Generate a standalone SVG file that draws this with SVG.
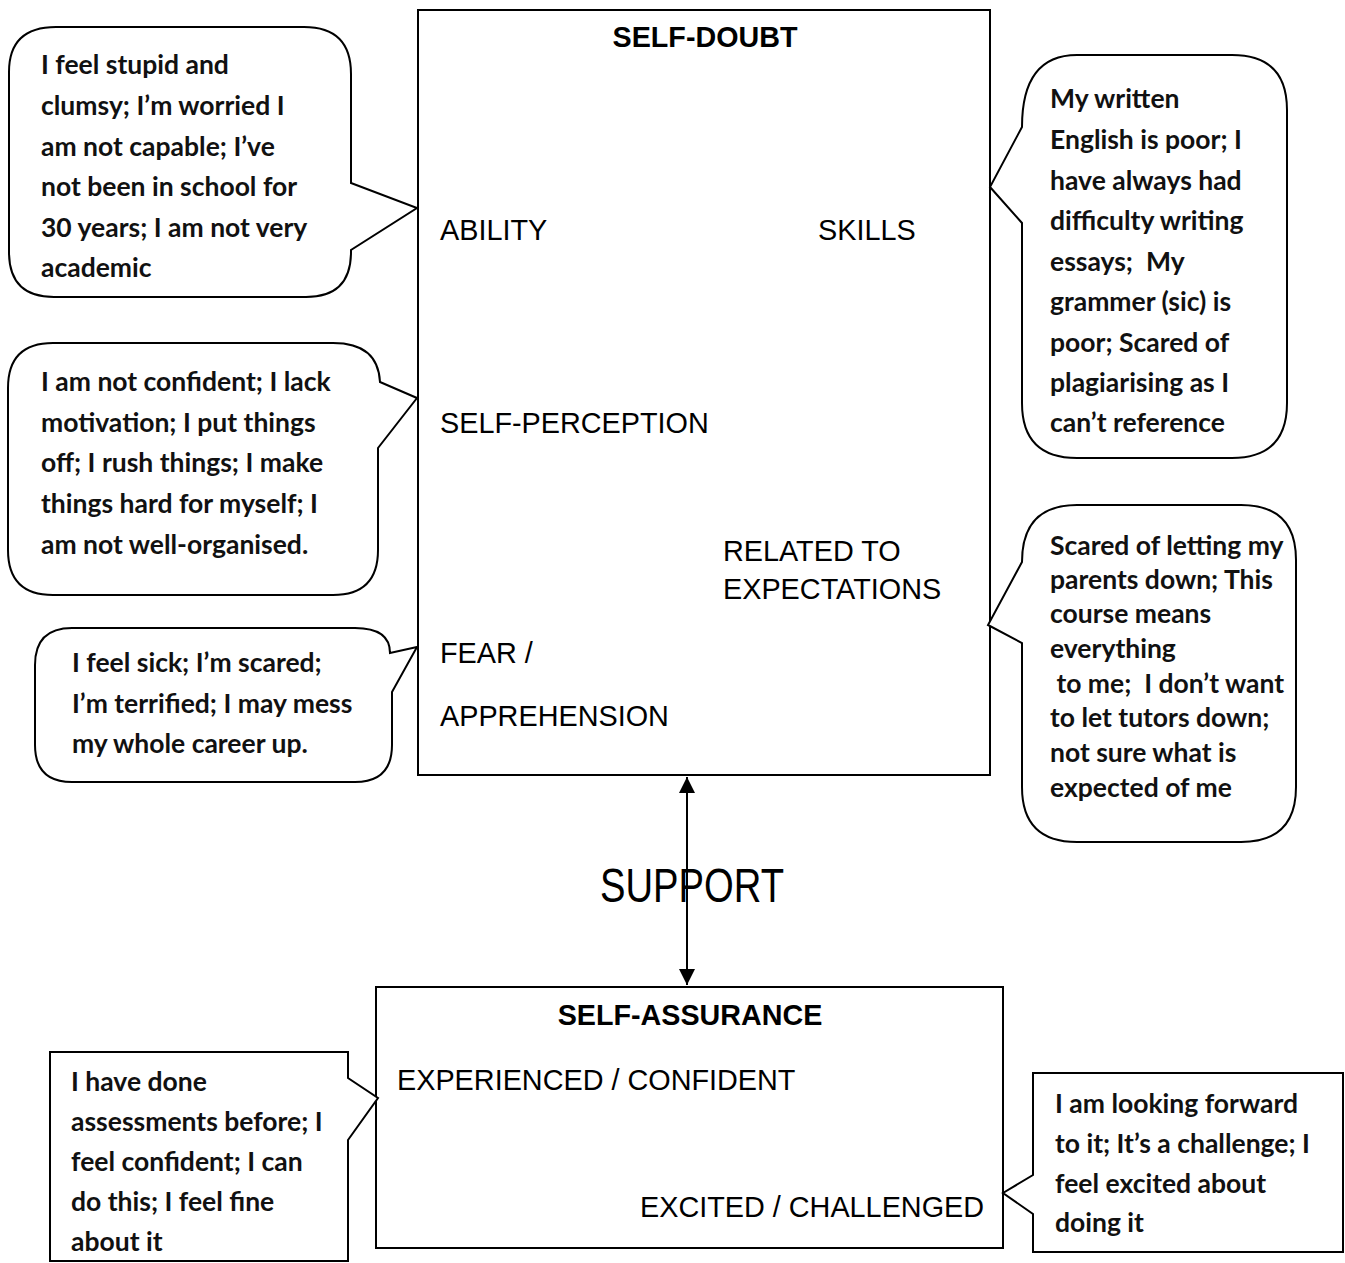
<svg xmlns="http://www.w3.org/2000/svg" width="1345" height="1263" viewBox="0 0 1345 1263">
<style>
.box{fill:#fff;stroke:#000;stroke-width:2}
.co{fill:#fff;stroke:#000;stroke-width:2;stroke-linejoin:miter}
.lab{font-family:"Liberation Sans",Arial,sans-serif;font-size:28.8px;fill:#000}
.hd{font-family:"Liberation Sans",Arial,sans-serif;font-size:28.7px;font-weight:bold;fill:#000;text-anchor:middle}
.ct{font-family:Lato,"Open Sans",sans-serif;font-size:26.5px;font-weight:bold;fill:#111}
.conn{stroke:#000;stroke-width:2;fill:none}
</style>
<defs>
<marker id="ah" viewBox="0 0 10 10" refX="10" refY="5" markerWidth="8.5" markerHeight="8" markerUnits="strokeWidth" orient="auto-start-reverse">
<path d="M0 0 L10 5 L0 10 Z" fill="#000"/>
</marker>
</defs>
<rect width="1345" height="1263" fill="#fff"/>

<g id="self-doubt">
<rect class="box" x="418" y="10" width="572" height="765"/>
<text class="hd" x="705" y="47">SELF-DOUBT</text>
<text class="lab" x="440" y="240">ABILITY</text>
<text class="lab" x="818" y="240">SKILLS</text>
<text class="lab" x="440" y="433">SELF-PERCEPTION</text>
<text class="lab" x="723" y="561">RELATED TO</text>
<text class="lab" x="723" y="599">EXPECTATIONS</text>
<text class="lab" x="440" y="663">FEAR /</text>
<text class="lab" x="440" y="726">APPREHENSION</text>
</g>

<g id="self-assurance">
<rect class="box" x="376" y="987" width="627" height="261"/>
<text class="hd" x="690" y="1025">SELF-ASSURANCE</text>
<text class="lab" x="397" y="1090">EXPERIENCED / CONFIDENT</text>
<text class="lab" x="640" y="1217">EXCITED / CHALLENGED</text>
</g>

<g id="connectors">
<line class="conn" x1="687" y1="777" x2="687" y2="985" marker-start="url(#ah)" marker-end="url(#ah)"/>
</g>
<g id="support-label">
<text x="600" y="902" textLength="184" lengthAdjust="spacingAndGlyphs" style="font-family:'Liberation Sans',Arial,sans-serif;font-size:48px;fill:#000">SUPPORT</text>
</g>

<g id="callout-ability">
<path class="co" d="M 56 27 H 304 Q 351 27 351 74 V 183 L 417 208 L 351 250 V 252 Q 351 297 306 297 H 54 Q 9 297 9 252 V 72 Q 9 27 56 27 Z"/>
<text class="ct" x="41" y="74">I feel stupid and</text>
<text class="ct" x="41" y="115">clumsy; I’m worried I</text>
<text class="ct" x="41" y="156">am not capable; I’ve</text>
<text class="ct" x="41" y="196">not been in school for</text>
<text class="ct" x="41" y="237">30 years; I am not very</text>
<text class="ct" x="41" y="277">academic</text>
</g>

<g id="callout-self-perception">
<path class="co" d="M 53 343 H 333 Q 378 343 380 382 L 417 398 L 378 448 V 550 Q 378 595 333 595 H 53 Q 8 595 8 550 V 388 Q 8 343 53 343 Z"/>
<text class="ct" x="41" y="391">I am not confident; I lack</text>
<text class="ct" x="41" y="432">motivation; I put things</text>
<text class="ct" x="41" y="472">off; I rush things; I make</text>
<text class="ct" x="41" y="513">things hard for myself; I</text>
<text class="ct" x="41" y="554">am not well-organised.</text>
</g>

<g id="callout-fear">
<path class="co" d="M 72 628 H 355 Q 390 628 390 653 L 417 647 L 392 692 V 745 Q 392 782 355 782 H 72 Q 35 782 35 745 V 665 Q 35 628 72 628 Z"/>
<text class="ct" x="72" y="672">I feel sick; I’m scared;</text>
<text class="ct" x="72" y="713">I’m terrified; I may mess</text>
<text class="ct" x="72" y="753">my whole career up.</text>
</g>

<g id="callout-skills">
<path class="co" d="M 1077 55 H 1232 Q 1287 55 1287 110 V 403 Q 1287 458 1232 458 H 1077 Q 1022 458 1022 403 V 223 L 990 187 L 1022 127 Q 1022 55 1077 55 Z"/>
<text class="ct" x="1050" y="108">My written</text>
<text class="ct" x="1050" y="149">English is poor; I</text>
<text class="ct" x="1050" y="190">have always had</text>
<text class="ct" x="1050" y="230">difficulty writing</text>
<text class="ct" x="1050" y="271" xml:space="preserve">essays;  My</text>
<text class="ct" x="1050" y="311">grammer (sic) is</text>
<text class="ct" x="1050" y="352">poor; Scared of</text>
<text class="ct" x="1050" y="392">plagiarising as I</text>
<text class="ct" x="1050" y="432">can’t reference</text>
</g>

<g id="callout-expectations">
<path class="co" d="M 1077 505 H 1241 Q 1296 505 1296 560 V 787 Q 1296 842 1241 842 H 1077 Q 1022 842 1022 787 V 643 L 988 625 L 1022 562 Q 1022 505 1077 505 Z"/>
<text class="ct" x="1050" y="555">Scared of letting my</text>
<text class="ct" x="1050" y="589">parents down; This</text>
<text class="ct" x="1050" y="623">course means</text>
<text class="ct" x="1050" y="658">everything</text>
<text class="ct" x="1050" y="693" xml:space="preserve"> to me;  I don’t want</text>
<text class="ct" x="1050" y="727">to let tutors down;</text>
<text class="ct" x="1050" y="762">not sure what is</text>
<text class="ct" x="1050" y="797">expected of me</text>
</g>

<g id="callout-experienced">
<path class="co" d="M 50 1052 H 348 V 1078 L 378 1098 L 348 1140 V 1261 H 50 Z"/>
<text class="ct" x="71" y="1091">I have done</text>
<text class="ct" x="71" y="1131">assessments before; I</text>
<text class="ct" x="71" y="1171">feel confident; I can</text>
<text class="ct" x="71" y="1211">do this; I feel fine</text>
<text class="ct" x="71" y="1251">about it</text>
</g>

<g id="callout-excited">
<path class="co" d="M 1033 1073 H 1343 V 1252 H 1033 V 1214 L 1003 1193 L 1033 1175 Z"/>
<text class="ct" x="1055" y="1113">I am looking forward</text>
<text class="ct" x="1055" y="1153">to it; It’s a challenge; I</text>
<text class="ct" x="1055" y="1193">feel excited about</text>
<text class="ct" x="1055" y="1232">doing it</text>
</g>
</svg>
